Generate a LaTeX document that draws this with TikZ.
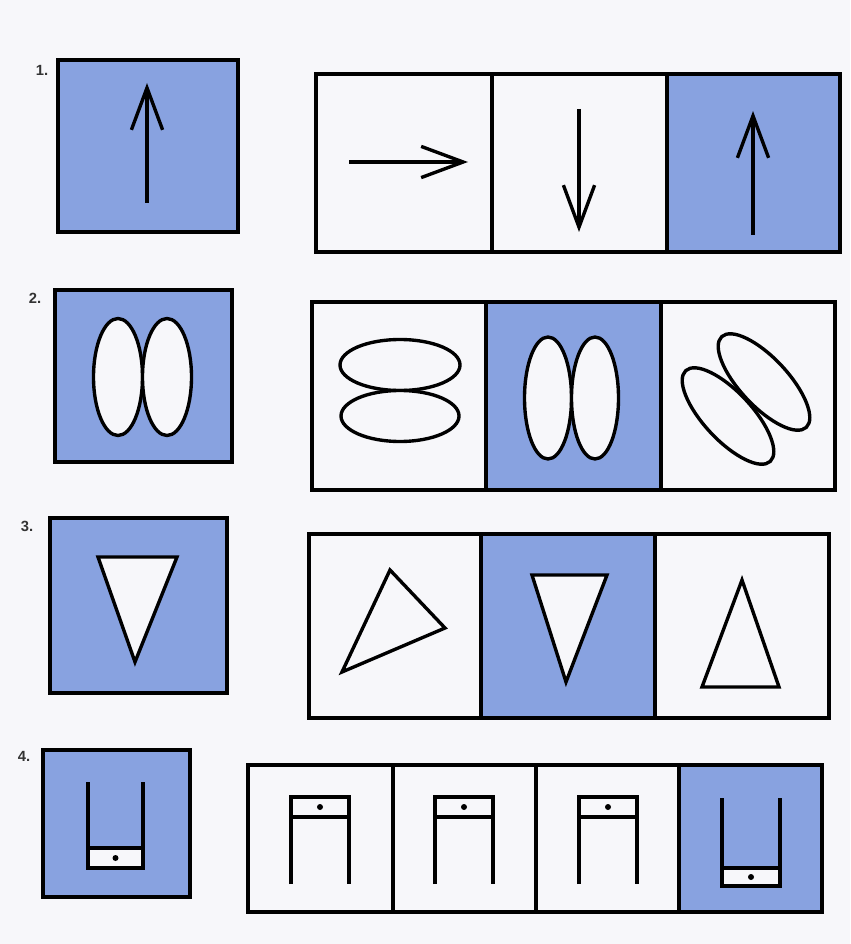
\documentclass[tikz,border=0pt]{standalone}
\usepackage{fontspec}
\setsansfont{Liberation Sans}
\usetikzlibrary{arrows.meta}
\definecolor{crayon}{RGB}{136,162,224}
\definecolor{paper}{RGB}{247,247,250}

\begin{document}
\begin{tikzpicture}[
    x=0.025cm, y=-0.025cm,
    every node/.style={font=\sffamily\bfseries\fontsize{10.5}{12}\selectfont},
    numlabel/.style={inner sep=0pt, text=black!80},
    cellbox/.style={draw=black, line width=2.8pt, fill=paper},
    shadedbox/.style={cellbox, fill=crayon},
    glyph/.style={draw=black, line width=2.4pt, fill=paper},
    stroke/.style={draw=black, line width=2.4pt},
    arr/.style={draw=black, line width=2.4pt, -{Straight Barb[length=1.05cm, width=0.78cm]}},
]

% ---- Paper ----
\fill[paper] (0,0) rectangle (850,944);
\useasboundingbox (0,0) rectangle (850,944);

% ---- Row 1: arrows ----
\node[numlabel] (num1) at (42,70) {1.};
\draw[shadedbox] (58,60) rectangle (238,232);
\draw[arr] (147,203) -- (147,83);

\draw[cellbox] (316,74) rectangle (492,252);
\draw[cellbox] (492,74) rectangle (667,252);
\draw[shadedbox] (667,74) rectangle (840,252);
\draw[arr] (349,162) -- (468,162);
\draw[arr] (579,109) -- (579,232);
\draw[arr] (753,235) -- (753,111);

% ---- Row 2: ellipses ----
\node[numlabel] (num2) at (35,298) {2.};
\draw[shadedbox] (55,290) rectangle (232,462);
\draw[glyph] (118,377) ellipse [x radius=24.5, y radius=58.5];
\draw[glyph] (167,377) ellipse [x radius=24.5, y radius=58.5];

\draw[cellbox] (312,302) rectangle (486,490);
\draw[shadedbox] (486,302) rectangle (661,490);
\draw[cellbox] (661,302) rectangle (835,490);
\draw[glyph] (400,365) ellipse [x radius=60, y radius=25.5];
\draw[glyph] (400,416) ellipse [x radius=59, y radius=25.5];
\draw[glyph] (548,398) ellipse [x radius=23.5, y radius=61];
\draw[glyph] (595,398) ellipse [x radius=23.5, y radius=61];
\draw[glyph, rotate around={-47:(764,382)}] (764,382) ellipse [x radius=62, y radius=24];
\draw[glyph, rotate around={-47:(728,416)}] (728,416) ellipse [x radius=62, y radius=24];

% ---- Row 3: triangles ----
\node[numlabel] (num3) at (27,526) {3.};
\draw[shadedbox] (50,518) rectangle (227,693);
\draw[glyph] (98,557) -- (177,557) -- (135,662) -- cycle;

\draw[cellbox] (309,534) rectangle (481,718);
\draw[shadedbox] (481,534) rectangle (655,718);
\draw[cellbox] (655,534) rectangle (829,718);
\draw[glyph] (390,570) -- (445,628) -- (342,672) -- cycle;
\draw[glyph] (532,575) -- (607,575) -- (566,682) -- cycle;
\draw[glyph] (742,580) -- (779,687) -- (702,687) -- cycle;

% ---- Row 4: bars with dot ----
\node[numlabel] (num4) at (24,756) {4.};
\draw[shadedbox] (43,750) rectangle (190,897);
\fill[paper] (88,848) rectangle (143,868);
\draw[stroke] (88,782) -- (88,868) -- (143,868) -- (143,782);
\draw[stroke] (88,848) -- (143,848);
\fill (115.5,858) circle (3);

\draw[cellbox] (248,765) rectangle (393,912);
\draw[cellbox] (393,765) rectangle (536,912);
\draw[cellbox] (536,765) rectangle (679,912);
\draw[shadedbox] (679,765) rectangle (822,912);

\draw[stroke] (291,884) -- (291,797) -- (349,797) -- (349,884);
\draw[stroke] (291,817) -- (349,817);
\fill (320,807) circle (3);

\draw[stroke] (435,884) -- (435,797) -- (493,797) -- (493,884);
\draw[stroke] (435,817) -- (493,817);
\fill (464,807) circle (3);

\draw[stroke] (579,884) -- (579,797) -- (637,797) -- (637,884);
\draw[stroke] (579,817) -- (637,817);
\fill (608,807) circle (3);

\fill[paper] (722,868) rectangle (780,886);
\draw[stroke] (722,798) -- (722,886) -- (780,886) -- (780,798);
\draw[stroke] (722,868) -- (780,868);
\fill (751,877) circle (3);

\end{tikzpicture}
\end{document}
